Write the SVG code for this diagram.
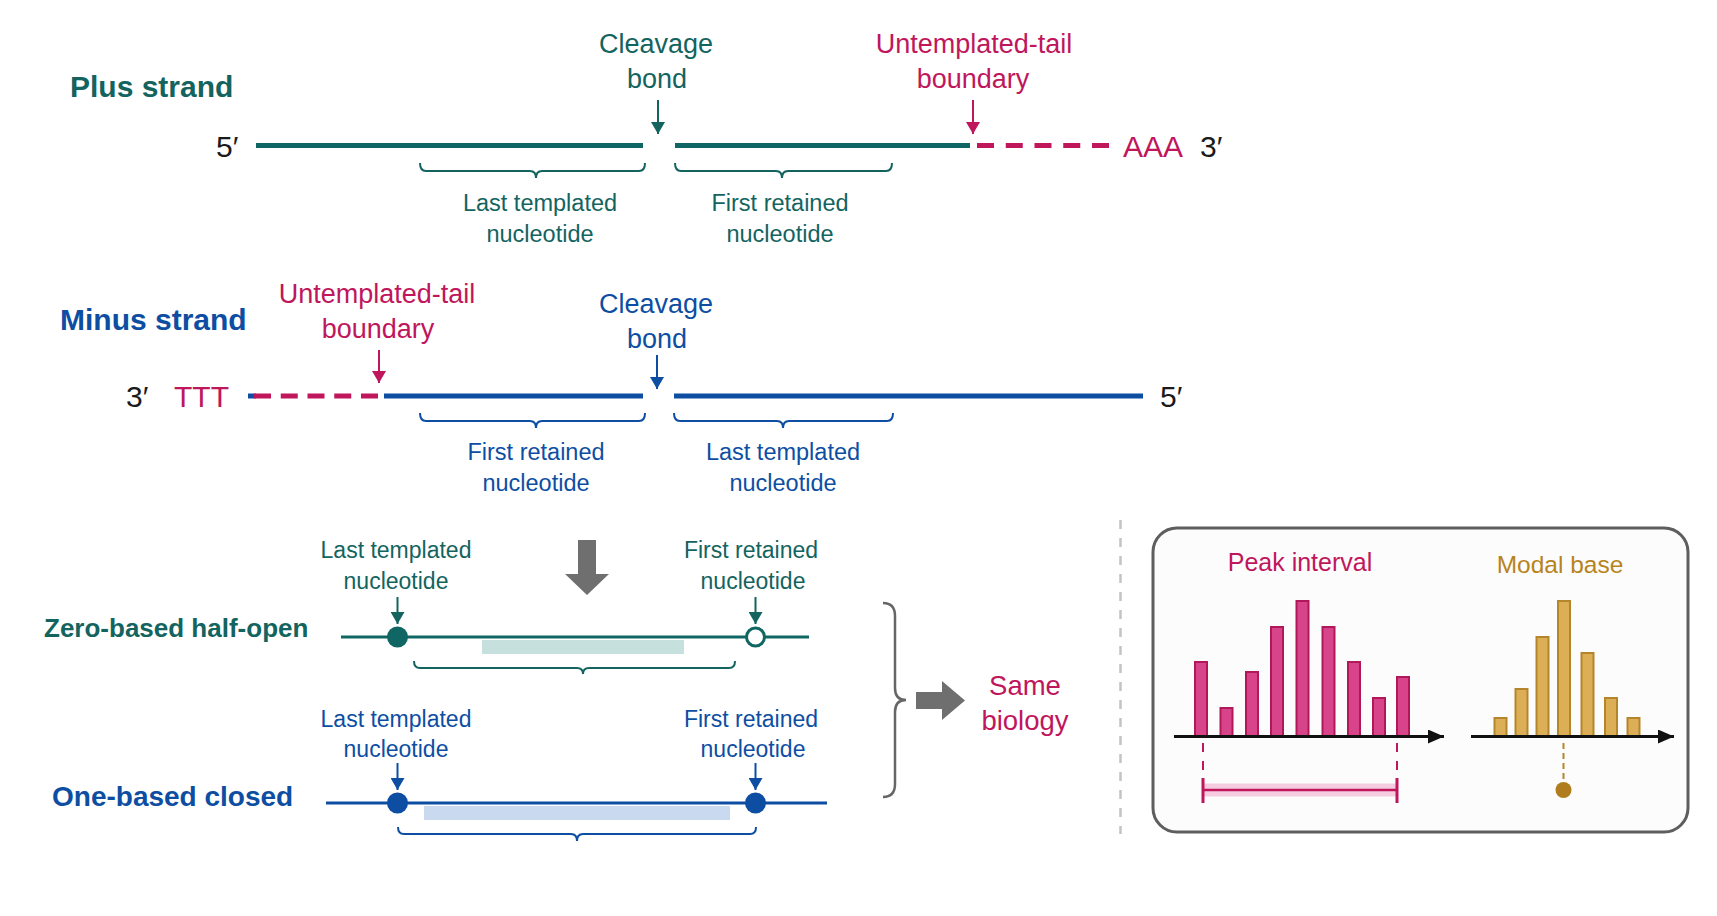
<svg xmlns="http://www.w3.org/2000/svg" width="1717" height="916" viewBox="0 0 1717 916">
<defs>
<style>
text{font-family:"Liberation Sans",Arial,sans-serif}
.t{fill:#13645f}.b{fill:#0d4ea3}.p{fill:#c0165c}.k{fill:#1a1a1a}.g{fill:#b7841c}
.title{font-size:30px;font-weight:bold}
.sub{font-size:27px;font-weight:bold}
.lab{font-size:27px}
.lab2{font-size:23.5px}
.lab3{font-size:23px}
.end{font-size:30px}
.mid{text-anchor:middle}
.brT{fill:none;stroke:#13645f;stroke-width:2}
.brB{fill:none;stroke:#0d4ea3;stroke-width:2}
.bp{fill:#d8448a;stroke:#b0185a;stroke-width:2}
.bg{fill:#dcae55;stroke:#b5852c;stroke-width:2}
</style>
<marker id="aT" markerUnits="userSpaceOnUse" markerWidth="12" markerHeight="14" refX="12" refY="7" orient="auto"><path d="M0,0 L12,7 L0,14 z" fill="#13645f"/></marker>
<marker id="aB" markerUnits="userSpaceOnUse" markerWidth="12" markerHeight="14" refX="12" refY="7" orient="auto"><path d="M0,0 L12,7 L0,14 z" fill="#0d4ea3"/></marker>
<marker id="aP" markerUnits="userSpaceOnUse" markerWidth="12" markerHeight="14" refX="12" refY="7" orient="auto"><path d="M0,0 L12,7 L0,14 z" fill="#c0165c"/></marker>
<marker id="aK" markerUnits="userSpaceOnUse" markerWidth="16" markerHeight="14" refX="16" refY="7" orient="auto"><path d="M0,0 L16,7 L0,14 z" fill="#111"/></marker>
</defs>
<rect width="1717" height="916" fill="#ffffff"/>

<g id="plus-strand">
<text class="t title" x="70" y="97">Plus strand</text>
<text class="k end" x="216" y="157">5′</text>
<line x1="256" y1="145.5" x2="643" y2="145.5" stroke="#0f6663" stroke-width="5"/>
<line x1="675" y1="145.5" x2="970" y2="145.5" stroke="#0f6663" stroke-width="5"/>
<line x1="977" y1="145.5" x2="1109" y2="145.5" stroke="#c0165c" stroke-width="5" stroke-dasharray="17 11.75"/>
<text class="p end" x="1123" y="157">AAA</text>
<text class="k end" x="1200" y="157">3′</text>
</g>

<g id="plus-cleavage">
<text class="t lab mid" x="656" y="53">Cleavage</text>
<text class="t lab mid" x="657" y="88">bond</text>
</g>
<g id="plus-tail">
<text class="p lab mid" x="974" y="53">Untemplated-tail</text>
<text class="p lab mid" x="973" y="88">boundary</text>
</g>
<g id="plus-last">
<path class="brT" d="M420,163 Q420,171 426,171 L530,171 Q536,171 536,178 Q536,171 542,171 L639,171 Q645,171 645,163"/>
<text class="t lab2 mid" x="540" y="211">Last templated</text>
<text class="t lab2 mid" x="540" y="242">nucleotide</text>
</g>
<g id="plus-first">
<path class="brT" d="M675,163 Q675,171 681,171 L776,171 Q782,171 782,178 Q782,171 788,171 L886,171 Q892,171 892,163"/>
<text class="t lab2 mid" x="780" y="211">First retained</text>
<text class="t lab2 mid" x="780" y="242">nucleotide</text>
</g>

<g id="minus-strand">
<text class="b title" x="60" y="330">Minus strand</text>
<text class="k end" x="126" y="407">3′</text>
<text class="p end" x="174" y="407">TTT</text>
<line x1="248" y1="396" x2="256" y2="396" stroke="#0d4ea3" stroke-width="5"/>
<line x1="254" y1="396" x2="378" y2="396" stroke="#c0165c" stroke-width="5" stroke-dasharray="17 9.75"/>
<line x1="384" y1="396" x2="643" y2="396" stroke="#0d4ea3" stroke-width="5"/>
<line x1="674" y1="396" x2="1143" y2="396" stroke="#0d4ea3" stroke-width="5"/>
<text class="k end" x="1160" y="407">5′</text>
</g>
<g id="minus-tail">
<text class="p lab mid" x="377" y="303">Untemplated-tail</text>
<text class="p lab mid" x="378" y="338">boundary</text>
</g>
<g id="minus-cleavage">
<text class="b lab mid" x="656" y="313">Cleavage</text>
<text class="b lab mid" x="657" y="348">bond</text>
</g>
<g id="minus-first">
<path class="brB" d="M420,413 Q420,421 426,421 L530,421 Q536,421 536,428 Q536,421 542,421 L639,421 Q645,421 645,413"/>
<text class="b lab2 mid" x="536" y="460">First retained</text>
<text class="b lab2 mid" x="536" y="491">nucleotide</text>
</g>
<g id="minus-last">
<path class="brB" d="M674,413 Q674,421 680,421 L777,421 Q783,421 783,428 Q783,421 789,421 L887,421 Q893,421 893,413"/>
<text class="b lab2 mid" x="783" y="460">Last templated</text>
<text class="b lab2 mid" x="783" y="491">nucleotide</text>
</g>

<g id="transition-arrow">
<polygon points="578,540 596,540 596,574 609,574 587,595 565,574 578,574" fill="#6f6f6f"/>
</g>

<g id="zero-based">
<text class="t sub" style="font-size:26px" x="44" y="637">Zero-based half-open</text>
<rect x="482" y="640" width="202" height="14" fill="#c6e1dd"/>
<line x1="341" y1="637" x2="809" y2="637" stroke="#0f6663" stroke-width="3"/>
<circle cx="397.5" cy="637" r="10.5" fill="#0f6663"/>
<circle cx="755.5" cy="637" r="9" fill="#ffffff" stroke="#0f6663" stroke-width="3"/>
<path class="brT" d="M414,661 Q414,668 420,668 L577,668 Q583,668 583,674 Q583,668 589,668 L729,668 Q735,668 735,661"/>
<text class="t lab3 mid" x="396" y="558">Last templated</text>
<text class="t lab3 mid" x="396" y="589">nucleotide</text>
<text class="t lab3 mid" x="751" y="558">First retained</text>
<text class="t lab3 mid" x="753" y="589">nucleotide</text>
</g>

<g id="one-based">
<text class="b sub" style="font-size:28px" x="52" y="806">One-based closed</text>
<rect x="424" y="806" width="306" height="14" fill="#c9d9ef"/>
<line x1="326" y1="803" x2="827" y2="803" stroke="#0d4ea3" stroke-width="3"/>
<circle cx="397.5" cy="803" r="10.5" fill="#0d4ea3"/>
<circle cx="755.5" cy="803" r="10.5" fill="#0d4ea3"/>
<path class="brB" d="M398,827 Q398,834 404,834 L571,834 Q577,834 577,841 Q577,834 583,834 L750,834 Q756,834 756,827"/>
<text class="b lab3 mid" x="396" y="727">Last templated</text>
<text class="b lab3 mid" x="396" y="757">nucleotide</text>
<text class="b lab3 mid" x="751" y="727">First retained</text>
<text class="b lab3 mid" x="753" y="757">nucleotide</text>
</g>

<g id="same-biology">
<path d="M883,603 Q895,603 895,616 L895,688 Q895,700 906,700 Q895,700 895,712 L895,784 Q895,797 883,797" fill="none" stroke="#666666" stroke-width="2.5"/>
<polygon points="916,692 942,692 942,681 965,700.5 942,720 942,709 916,709" fill="#6f6f6f"/>
<text class="p mid" style="font-size:27.5px" x="1025" y="695">Same</text>
<text class="p mid" style="font-size:27.5px" x="1025" y="730">biology</text>
</g>

<g id="separator">
<line x1="1120.5" y1="520" x2="1120.5" y2="834" stroke="#c4c4c4" stroke-width="2.5" stroke-dasharray="9 9"/>
</g>

<g id="peak-panel">
<rect x="1153" y="528" width="535" height="304" rx="24" fill="#fcfcfc" stroke="#5e5e5e" stroke-width="3"/>
<text class="p mid" style="font-size:25px" x="1300" y="571">Peak interval</text>
<rect class="bp" x="1195" y="662" width="12" height="74"/>
<rect class="bp" x="1220.5" y="708" width="12" height="28"/>
<rect class="bp" x="1246" y="672" width="12" height="64"/>
<rect class="bp" x="1271" y="627" width="12" height="109"/>
<rect class="bp" x="1296.5" y="601" width="12" height="135"/>
<rect class="bp" x="1322.5" y="627" width="12" height="109"/>
<rect class="bp" x="1348" y="662" width="12" height="74"/>
<rect class="bp" x="1373" y="698" width="12" height="38"/>
<rect class="bp" x="1397" y="677" width="12" height="59"/>
<line x1="1174" y1="736.5" x2="1444" y2="736.5" stroke="#111" stroke-width="3" marker-end="url(#aK)"/>
<line x1="1203" y1="743" x2="1203" y2="771" stroke="#c0165c" stroke-width="2" stroke-dasharray="9 9"/>
<line x1="1397" y1="743" x2="1397" y2="771" stroke="#c0165c" stroke-width="2" stroke-dasharray="9 9"/>
<rect x="1203" y="783.5" width="194" height="13" fill="#f6cde0"/>
<line x1="1203" y1="790" x2="1397" y2="790" stroke="#c0165c" stroke-width="2.5"/>
<line x1="1203" y1="778" x2="1203" y2="803" stroke="#c0165c" stroke-width="3"/>
<line x1="1397" y1="778" x2="1397" y2="803" stroke="#c0165c" stroke-width="3"/>
</g>

<g id="modal-panel">
<text class="g mid" style="font-size:24.5px" x="1560" y="573">Modal base</text>
<rect class="bg" x="1494.5" y="718" width="12" height="18"/>
<rect class="bg" x="1515.5" y="689" width="12" height="47"/>
<rect class="bg" x="1536.5" y="637" width="12" height="99"/>
<rect class="bg" x="1558" y="601" width="12" height="135"/>
<rect class="bg" x="1581.5" y="653" width="12" height="83"/>
<rect class="bg" x="1605" y="698" width="12" height="38"/>
<rect class="bg" x="1627.5" y="718" width="12" height="18"/>
<line x1="1471" y1="736.5" x2="1674" y2="736.5" stroke="#111" stroke-width="3" marker-end="url(#aK)"/>
<line x1="1563.5" y1="743" x2="1563.5" y2="782" stroke="#b5852c" stroke-width="2" stroke-dasharray="6 4"/>
<circle cx="1563.5" cy="790" r="8" fill="#b07d1e"/>
</g>

<g id="connectors">
<line x1="658" y1="100" x2="658" y2="134" stroke="#13645f" stroke-width="2" marker-end="url(#aT)"/>
<line x1="973" y1="100" x2="973" y2="134" stroke="#c0165c" stroke-width="2" marker-end="url(#aP)"/>
<line x1="379" y1="350" x2="379" y2="383" stroke="#c0165c" stroke-width="2" marker-end="url(#aP)"/>
<line x1="657" y1="355" x2="657" y2="389" stroke="#0d4ea3" stroke-width="2" marker-end="url(#aB)"/>
<line x1="397.5" y1="597" x2="397.5" y2="624" stroke="#13645f" stroke-width="2" marker-end="url(#aT)"/>
<line x1="755.5" y1="597" x2="755.5" y2="624" stroke="#13645f" stroke-width="2" marker-end="url(#aT)"/>
<line x1="397.5" y1="763" x2="397.5" y2="790" stroke="#0d4ea3" stroke-width="2" marker-end="url(#aB)"/>
<line x1="755.5" y1="763" x2="755.5" y2="790" stroke="#0d4ea3" stroke-width="2" marker-end="url(#aB)"/>
</g>
</svg>
